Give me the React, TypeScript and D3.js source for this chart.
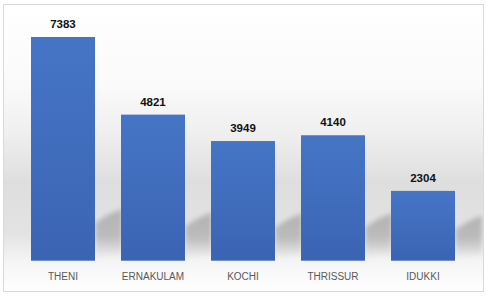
import React from "react";
import * as d3 from "d3";

const categories = ["THENI", "ERNAKULAM", "KOCHI", "THRISSUR", "IDUKKI"];
const values = [7383, 4821, 3949, 4140, 2304];
const yDomain = [0, 8000];

const W = 488;
const H = 296;

export default function App() {
  const x = d3.scaleBand<string>().domain(categories).range([18, 468]).paddingInner(0.2889).paddingOuter(0.1444);
  const y = d3.scaleLinear().domain(yDomain).range([260.7, 18.3]);
  const bottom = y(0);
  const bw = x.bandwidth();

  return (
    <svg width={W} height={H} style={{ position: "absolute", left: 0, top: 0 }}>
      <defs>
        <linearGradient id="bg" x1="0" y1="0" x2="0" y2="1">
          <stop offset="0" stopColor="#ffffff" />
          <stop offset="0.28" stopColor="#fafafa" />
          <stop offset="0.45" stopColor="#efefef" />
          <stop offset="0.62" stopColor="#dedede" />
          <stop offset="0.8" stopColor="#e3e3e3" />
          <stop offset="0.89" stopColor="#f4f4f4" />
          <stop offset="1" stopColor="#ffffff" />
        </linearGradient>
        <linearGradient id="bar" x1="0" y1="0" x2="0" y2="1">
          <stop offset="0" stopColor="#4675c6" />
          <stop offset="1" stopColor="#3b64b3" />
        </linearGradient>
        <linearGradient id="shadow" x1="0" y1="0" x2="0" y2="1">
          <stop offset="0" stopColor="#8c8c8c" stopOpacity="0.55" />
          <stop offset="0.55" stopColor="#8c8c8c" stopOpacity="0.45" />
          <stop offset="1" stopColor="#8c8c8c" stopOpacity="0" />
        </linearGradient>
        <filter id="blur" x="-50%" y="-50%" width="200%" height="200%">
          <feGaussianBlur stdDeviation="2.5" />
        </filter>
        <clipPath id="plotClip">
          <rect x={4} y={5} width={479} height={bottom - 5} />
        </clipPath>
      </defs>
      <rect x={3.5} y={4.5} width={480} height={287} fill="url(#bg)" stroke="#d9d9d9" strokeWidth={1} />
      <g clipPath="url(#plotClip)">
        {categories.map((c, i) => {
          const x1 = (x(c) as number) + bw;
          const h = bottom - y(values[i]);
          const sh = 28 + h * 0.045;
          const pts = [
            [x1, bottom - sh],
            [x1 + 13, bottom - sh - 8],
            [x1 + 27, bottom - sh - 14],
            [x1 + 27, bottom - 6],
            [x1, bottom - 2],
          ];
          return (
            <polygon
              key={"s" + c}
              points={pts.map((p) => p.join(",")).join(" ")}
              fill="url(#shadow)"
              filter="url(#blur)"
            />
          );
        })}
      </g>
      {categories.map((c, i) => (
        <rect
          key={c}
          x={x(c)}
          y={y(values[i])}
          width={bw}
          height={bottom - y(values[i])}
          fill="url(#bar)"
        />
      ))}
      {categories.map((c, i) => (
        <text
          key={"v" + c}
          x={(x(c) as number) + bw / 2}
          y={y(values[i]) - 9}
          textAnchor="middle"
          fontFamily="Liberation Sans, Arial, sans-serif"
          fontWeight="bold"
          fontSize={11.5}
          fill="#111"
        >
          {values[i]}
        </text>
      ))}
      {categories.map((c) => (
        <text
          key={"l" + c}
          x={(x(c) as number) + bw / 2}
          y={279.5}
          textAnchor="middle"
          fontFamily="Liberation Sans, Arial, sans-serif"
          fontSize={10}
          fill="#595959"
        >
          {c}
        </text>
      ))}
    </svg>
  );
}
